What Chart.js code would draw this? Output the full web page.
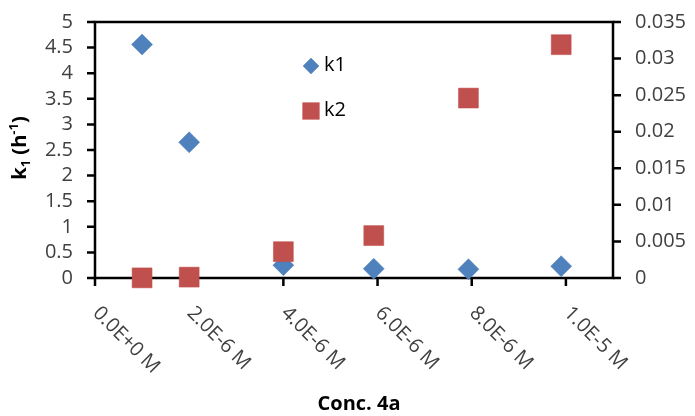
<!DOCTYPE html>
<html>
<head>
<meta charset="utf-8">
<script src="https://cdn.jsdelivr.net/npm/chart.js@4/dist/chart.umd.min.js"></script>
<style>
  html, body { margin: 0; padding: 0; background: #fff; }
  canvas { display: block; }
</style>
</head>
<body>
<canvas id="chart" width="695" height="416"></canvas>
<script>
// Rate constants against concentration of 4a
const concentrations = [1.0e-6, 2.0e-6, 4.0e-6, 5.92e-6, 7.93e-6, 9.9e-6];
const k1Values = [4.56, 2.65, 0.25, 0.18, 0.17, 0.23];
const k2Values = [0.00002, 0.00012, 0.0036, 0.0058, 0.0246, 0.0319];

const xTickValues = [0, 2e-6, 4e-6, 6e-6, 8e-6, 1e-5];
const xTickLabels = ['0.0E+0 M', '2.0E-6 M', '4.0E-6 M', '6.0E-6 M', '8.0E-6 M', '1.0E-5 M'];
const yTickLabels = ['0', '0.5', '1', '1.5', '2', '2.5', '3', '3.5', '4', '4.5', '5'];
const y2TickLabels = ['0', '0.005', '0.01', '0.015', '0.02', '0.025', '0.03', '0.035'];

const FONT = "'Open Sans', sans-serif";
const BLUE = '#4F81BD';
const RED = '#C0504D';
const AXIS_W = 2.5;
const TICK_LEN = 8;

const pairs = vals => concentrations.map((x, i) => ({ x: x, y: vals[i] }));

// Plot frame with outward tick marks, drawn under the markers
const frame = {
  id: 'frame',
  beforeDatasetsDraw(chart) {
    const { ctx, chartArea: a, scales } = chart;
    ctx.save();
    ctx.strokeStyle = '#000';
    ctx.lineWidth = AXIS_W;
    ctx.lineCap = 'square';
    ctx.beginPath();
    ctx.rect(a.left, a.top, a.right - a.left, a.bottom - a.top);
    ctx.stroke();

    ctx.lineCap = 'butt';
    ctx.beginPath();
    scales.x.ticks.forEach(t => {
      const px = scales.x.getPixelForValue(t.value);
      ctx.moveTo(px, a.bottom);
      ctx.lineTo(px, a.bottom + TICK_LEN);
    });
    scales.y.ticks.forEach(t => {
      const py = scales.y.getPixelForValue(t.value);
      ctx.moveTo(a.left, py);
      ctx.lineTo(a.left - TICK_LEN, py);
    });
    scales.y2.ticks.forEach(t => {
      const py = scales.y2.getPixelForValue(t.value);
      ctx.moveTo(a.right, py);
      ctx.lineTo(a.right + TICK_LEN, py);
    });
    ctx.stroke();
    ctx.restore();
  }
};

// Rotated x labels, axis titles and the in-plot legend
const decor = {
  id: 'decor',
  afterDraw(chart) {
    const { ctx } = chart;
    const xs = chart.scales.x;

    ctx.save();
    ctx.fillStyle = '#404040';
    ctx.font = '20px ' + FONT;
    ctx.textAlign = 'left';
    ctx.textBaseline = 'middle';
    xTickValues.forEach((v, i) => {
      ctx.save();
      ctx.translate(xs.getPixelForValue(v) + 1, 310);
      ctx.rotate(Math.PI / 4);
      ctx.fillText(xTickLabels[i], 0, 0);
      ctx.restore();
    });

    ctx.fillStyle = '#000';
    ctx.font = 'bold 20px ' + FONT;
    ctx.textAlign = 'center';
    ctx.textBaseline = 'middle';
    ctx.fillText('Conc. 4a', 359, 404);

    const parts = [
      { t: 'k', f: 'bold 20px ' + FONT, dy: 0 },
      { t: '1', f: 'bold 13px ' + FONT, dy: 4 },
      { t: ' (h', f: 'bold 20px ' + FONT, dy: 0 },
      { t: '-1', f: 'bold 13px ' + FONT, dy: -8 },
      { t: ')', f: 'bold 20px ' + FONT, dy: 0 }
    ];
    let total = 0;
    parts.forEach(p => { ctx.font = p.f; p.w = ctx.measureText(p.t).width; total += p.w; });
    ctx.save();
    ctx.translate(26, 148);
    ctx.rotate(-Math.PI / 2);
    ctx.textAlign = 'left';
    ctx.textBaseline = 'alphabetic';
    let cx = -total / 2;
    parts.forEach(p => {
      ctx.font = p.f;
      ctx.fillText(p.t, cx, p.dy);
      cx += p.w;
    });
    ctx.restore();

    const drawPoint = Chart.helpers.drawPoint;
    ctx.lineWidth = 0.5;
    ctx.fillStyle = BLUE; ctx.strokeStyle = BLUE;
    drawPoint(ctx, { pointStyle: 'rectRot', radius: 8, borderWidth: 0.5 }, 311, 66);
    ctx.fillStyle = RED; ctx.strokeStyle = RED;
    drawPoint(ctx, { pointStyle: 'rect', radius: 11.8, borderWidth: 0.5 }, 311, 111);
    ctx.fillStyle = '#000';
    ctx.font = '20px ' + FONT;
    ctx.textAlign = 'left';
    ctx.textBaseline = 'middle';
    ctx.fillText('k1', 324, 65);
    ctx.fillText('k2', 324, 110);
    ctx.restore();
  }
};

const tickFont = { family: FONT, size: 20 };
const noGrid = { display: false, drawTicks: false };
const noBorder = { display: false };
const noEdgePadding = s => {
  s.paddingTop = 0; s.paddingBottom = 0; s.paddingLeft = 0; s.paddingRight = 0;
};

new Chart(document.getElementById('chart'), {
  type: 'scatter',
  data: {
    datasets: [
      {
        label: 'k1',
        data: pairs(k1Values),
        yAxisID: 'y',
        pointStyle: 'rectRot',
        pointRadius: 10.5,
        pointHoverRadius: 10.5,
        backgroundColor: BLUE,
        borderColor: BLUE,
        borderWidth: 0.5,
        clip: false,
        order: 1
      },
      {
        label: 'k2',
        data: pairs(k2Values),
        yAxisID: 'y2',
        pointStyle: 'rect',
        pointRadius: 14.1,
        pointHoverRadius: 14.1,
        backgroundColor: RED,
        borderColor: RED,
        borderWidth: 0.5,
        clip: false,
        order: 0
      }
    ]
  },
  options: {
    responsive: false,
    animation: false,
    devicePixelRatio: 1,
    layout: { padding: { top: 22, left: 0, right: 0, bottom: 0 } },
    plugins: {
      legend: { display: false },
      tooltip: { enabled: false }
    },
    scales: {
      x: {
        type: 'linear',
        min: 0,
        max: 1.1e-5,
        afterBuildTicks: s => { s.ticks = xTickValues.map(v => ({ value: v })); },
        afterFit: s => { s.height = 416 - 278; noEdgePadding(s); },
        ticks: { display: false },
        grid: noGrid,
        border: noBorder
      },
      y: {
        type: 'linear',
        position: 'left',
        min: 0,
        max: 5,
        afterFit: s => { s.width = 95; noEdgePadding(s); },
        ticks: {
          stepSize: 0.5,
          autoSkip: false,
          padding: 22,
          color: '#404040',
          font: tickFont,
          callback: (v, i) => yTickLabels[i]
        },
        grid: noGrid,
        border: noBorder
      },
      y2: {
        type: 'linear',
        position: 'right',
        min: 0,
        max: 0.035,
        afterFit: s => { s.width = 695 - 613; noEdgePadding(s); },
        ticks: {
          stepSize: 0.005,
          autoSkip: false,
          padding: 22,
          color: '#404040',
          font: tickFont,
          callback: (v, i) => y2TickLabels[i]
        },
        grid: noGrid,
        border: noBorder
      }
    }
  },
  plugins: [frame, decor]
});
</script>
</body>
</html>
